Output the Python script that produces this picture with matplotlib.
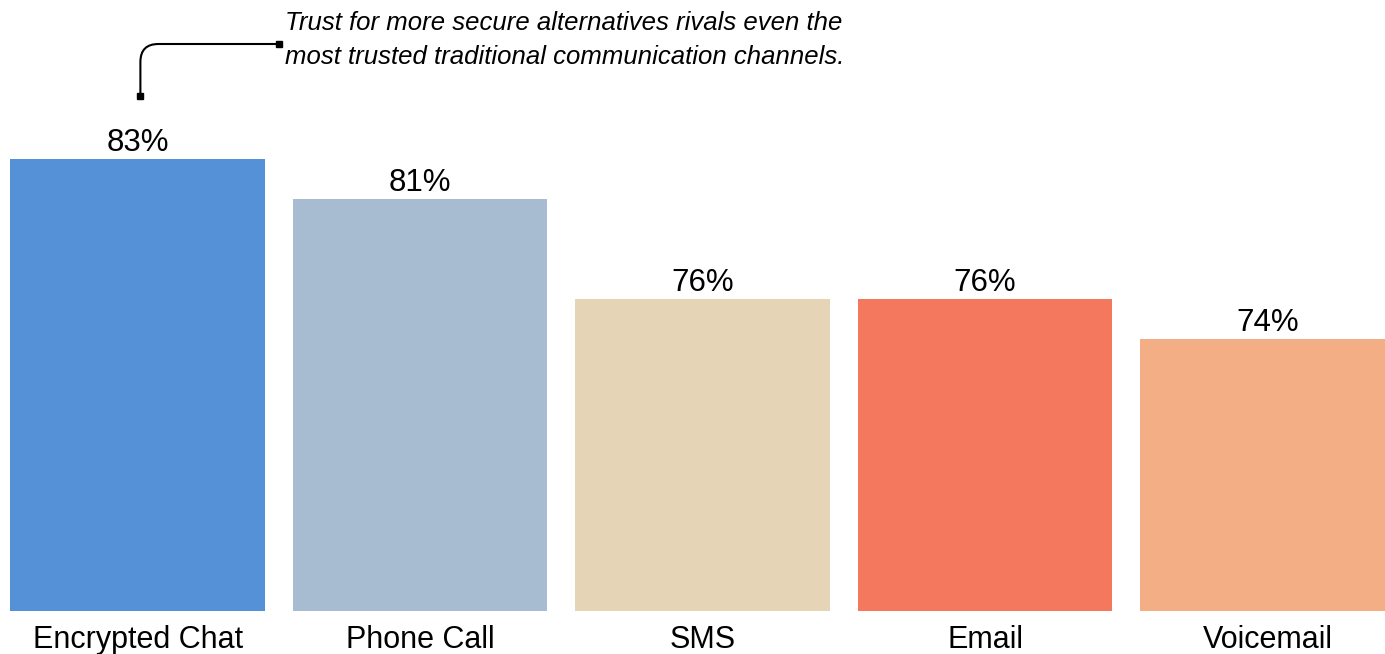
import matplotlib
matplotlib.use("Agg")
import matplotlib.pyplot as plt

# data
channels = ["Encrypted Chat", "Phone Call", "SMS", "Email", "Voicemail"]
trust = [83, 81, 76, 76, 74]
colors = ["#5591D6", "#A7BCD0", "#E5D4B5", "#F4785E", "#F4AE85"]
note = "Trust for more secure alternatives rivals even the\nmost trusted traditional communication channels."

plt.rcParams["font.family"] = ["Liberation Sans", "DejaVu Sans"]

fig = plt.figure(figsize=(13.85, 6.54), dpi=100)
ax = fig.add_axes([0, 43 / 654, 1, 611 / 654])

x = list(range(len(channels)))
ax.bar(x, trust, width=0.9, color=colors)
ax.set_xlim(-0.487, 4.416)
ax.set_ylim(60.4, 90.95)
ax.axis("off")

# value labels
for xi, v in zip(x, trust):
    ax.annotate(f"{v}%", (xi, v), xytext=(0, 6), textcoords="offset points",
                ha="center", va="baseline", fontsize=22.5)

# category labels
for xi, name in zip(x, channels):
    ax.annotate(name, (xi, 60.4), xytext=(0, -26.5), textcoords="offset points",
                ha="center", va="baseline", fontsize=22, annotation_clip=False)

# callout
ax.annotate("", xy=(0.01, 86.15), xytext=(0.5, 88.75),
            arrowprops=dict(arrowstyle="-", color="black", lw=1.5,
                            shrinkA=0, shrinkB=0,
                            connectionstyle="angle,angleA=0,angleB=90,rad=18"),
            annotation_clip=False)
ax.plot([0.01, 0.5], [86.15, 88.75], ls="none", marker="s", ms=5,
        color="black", clip_on=False)
ax.text(0.522, 90.4, note, ha="left", va="top", fontsize=18.5, style="italic",
        linespacing=1.5, clip_on=False)

fig.savefig("out.png", dpi=100)
